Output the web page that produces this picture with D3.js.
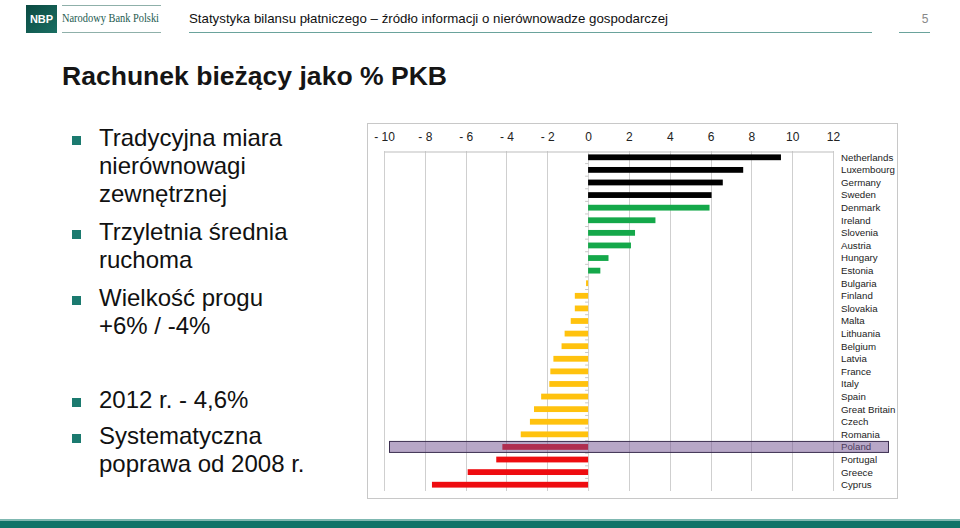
<!DOCTYPE html>
<html><head><meta charset="utf-8">
<script src="https://cdn.jsdelivr.net/npm/d3@7"></script>
<style>
html,body{margin:0;padding:0;background:#fff;}
svg{display:block;font-family:Arial,"Liberation Sans",sans-serif;}
</style></head>
<body>
<svg id="c" width="960" height="528"></svg>
<script>
const countries = ["Netherlands","Luxembourg","Germany","Sweden","Denmark","Ireland","Slovenia","Austria","Hungary","Estonia","Bulgaria","Finland","Slovakia","Malta","Lithuania","Belgium","Latvia","France","Italy","Spain","Great Britain","Czech","Romania","Poland","Portugal","Greece","Cyprus"];
const values = [9.45, 7.6, 6.6, 6.05, 5.95, 3.3, 2.3, 2.1, 1.0, 0.6, -0.1, -0.65, -0.65, -0.85, -1.15, -1.3, -1.7, -1.85, -1.9, -2.3, -2.65, -2.85, -3.3, -4.2, -4.5, -5.9, -7.65];
const groups = ["above","above","above","above","near","near","near","near","near","near","mid","mid","mid","mid","mid","mid","mid","mid","mid","mid","mid","mid","mid","below","below","below","below"];
const highlighted = ["Poland"];
const tickValues = [-10,-8,-6,-4,-2,0,2,4,6,8,10,12];
const tickLabels = ["- 10","- 8","- 6","- 4","- 2","0","2","4","6","8","10","12"];
const bullets = [
  ["Tradycyjna miara","nierównowagi","zewnętrznej"],
  ["Trzyletnia średnia","ruchoma"],
  ["Wielkość progu","+6% / -4%"],
  ["2012 r. - 4,6%"],
  ["Systematyczna","poprawa od 2008 r."]
];
const headerTitle = "Statystyka bilansu płatniczego – źródło informacji o nierównowadze gospodarczej";
const slideTitle = "Rachunek bieżący jako % PKB";

const svg = d3.select("#c");
const teal = "#0f7368";

// ---- header ----
const lg = svg.append("defs").append("linearGradient").attr("id","lg").attr("x1",0).attr("y1",0).attr("x2",1).attr("y2",1);
lg.append("stop").attr("offset","0%").attr("stop-color","#0a4a42");
lg.append("stop").attr("offset","100%").attr("stop-color","#1a6e62");
svg.append("rect").attr("x",26).attr("y",5).attr("width",31).attr("height",28).attr("fill","url(#lg)");
svg.append("text").attr("x",41.5).attr("y",23).attr("text-anchor","middle").attr("fill","#fff")
  .attr("font-size",11).attr("font-weight","bold").text("NBP");
svg.append("line").attr("x1",62).attr("x2",161).attr("y1",5.5).attr("y2",5.5).attr("stroke","#8fb0aa").attr("stroke-width",1.2);
svg.append("line").attr("x1",62).attr("x2",161).attr("y1",32.5).attr("y2",32.5).attr("stroke","#8fb0aa").attr("stroke-width",1.2);
svg.append("text").attr("x",62).attr("y",21.5).attr("fill","#1d5a50").attr("font-size",12)
  .attr("font-family","'Liberation Serif','DejaVu Serif',serif")
  .attr("textLength",97).attr("lengthAdjust","spacingAndGlyphs").text("Narodowy Bank Polski");
svg.append("text").attr("x",189).attr("y",22.5).attr("fill","#111").attr("font-size",13.3)
  .attr("textLength",479).attr("lengthAdjust","spacingAndGlyphs").text(headerTitle);
svg.append("line").attr("x1",189).attr("x2",872).attr("y1",32.5).attr("y2",32.5).attr("stroke","#6aa39c").attr("stroke-width",1);
svg.append("text").attr("x",925).attr("y",22.5).attr("text-anchor","middle").attr("fill","#888").attr("font-size",12).text("5");
svg.append("line").attr("x1",899).attr("x2",930).attr("y1",32.5).attr("y2",32.5).attr("stroke","#6aa39c").attr("stroke-width",1);

// ---- title ----
svg.append("text").attr("x",62).attr("y",84.5).attr("fill","#151515").attr("font-size",25).attr("font-weight","bold")
  .attr("textLength",385).attr("lengthAdjust","spacingAndGlyphs").text(slideTitle);

// ---- bullets ----
const lineH = 28;
const blockStarts = [146, 240, 306, 408, 444];
bullets.forEach((lines, i) => {
  const y0 = blockStarts[i];
  svg.append("rect").attr("x",72).attr("y",y0-10).attr("width",9).attr("height",9).attr("fill","#1b7a6f");
  lines.forEach((t, j) => {
    svg.append("text").attr("x",99).attr("y",y0 + j*lineH).attr("fill","#111").attr("font-size",24).text(t);
  });
});

// ---- bottom band ----
svg.append("rect").attr("x",0).attr("y",519).attr("width",960).attr("height",2).attr("fill","#7fb8b1");
svg.append("rect").attr("x",0).attr("y",521).attr("width",960).attr("height",7).attr("fill",teal);

// ---- chart ----
svg.append("rect").attr("x",367.5).attr("y",123.5).attr("width",530).attr("height",375)
  .attr("fill","#fff").attr("stroke","#c8c8c8").attr("stroke-width",1);

const x = d3.scaleLinear().domain([-10,12]).range([384,833]);
const y = d3.scaleBand().domain(countries).range([151,491]).paddingInner(0.54).paddingOuter(0.27);
const color = d3.scaleOrdinal().domain(["above","near","mid","below"]).range(["#000000","#14a84a","#ffc20e","#ee0c10"]);

const g = svg.append("g");
// gridlines
g.selectAll("line.grid").data(tickValues).join("line").attr("class","grid")
  .attr("x1",d=>Math.round(x(d))+0.5).attr("x2",d=>Math.round(x(d))+0.5)
  .attr("y1",151).attr("y2",491).attr("stroke","#cfcfcf").attr("stroke-width",1);

// top axis
const axis = d3.axisTop(x).tickValues(tickValues).tickFormat((d,i)=>tickLabels[i]).tickSize(0).tickPadding(11);
const ag = g.append("g").attr("transform","translate(0,151.5)").call(axis);
ag.select(".domain").attr("stroke","#bdbdbd");
ag.selectAll("text").attr("font-size",12).attr("fill","#222").attr("font-family","Arial,'Liberation Sans',sans-serif");

// category axis at zero
const step = y.step();
g.append("line").attr("x1",x(0)+0.5).attr("x2",x(0)+0.5).attr("y1",151).attr("y2",491).attr("stroke","#d6d6d6");
g.selectAll("line.ct").data(countries.slice(1)).join("line").attr("class","ct")
  .attr("x1",x(0)-3).attr("x2",x(0)+0.5)
  .attr("y1",d=>y(d)-step*0.27).attr("y2",d=>y(d)-step*0.27).attr("stroke","#c8c8c8");

// bars
const data = countries.map((c,i)=>({c, v: values[i], g: groups[i]}));
g.selectAll("rect.bar").data(data).join("rect").attr("class","bar")
  .attr("x",d=>x(Math.min(0,d.v))).attr("width",d=>Math.abs(x(d.v)-x(0)))
  .attr("y",d=>y(d.c)).attr("height",y.bandwidth())
  .attr("fill",d=>color(d.g));

// labels
g.selectAll("text.lab").data(countries).join("text").attr("class","lab")
  .attr("x",841).attr("y",d=>y(d)+y.bandwidth()/2).attr("dy","0.35em")
  .attr("font-size",9.7).attr("fill","#222").text(d=>d);

// highlight
highlighted.forEach(h=>{
  const cy = y(h) + y.bandwidth()/2;
  g.append("rect").attr("x",389.5).attr("y",cy-5.5).attr("width",499).attr("height",11)
    .attr("fill","#6f4f8f").attr("fill-opacity",0.5).attr("stroke","#3c2f50").attr("stroke-width",1);
});
</script>
</body></html>
